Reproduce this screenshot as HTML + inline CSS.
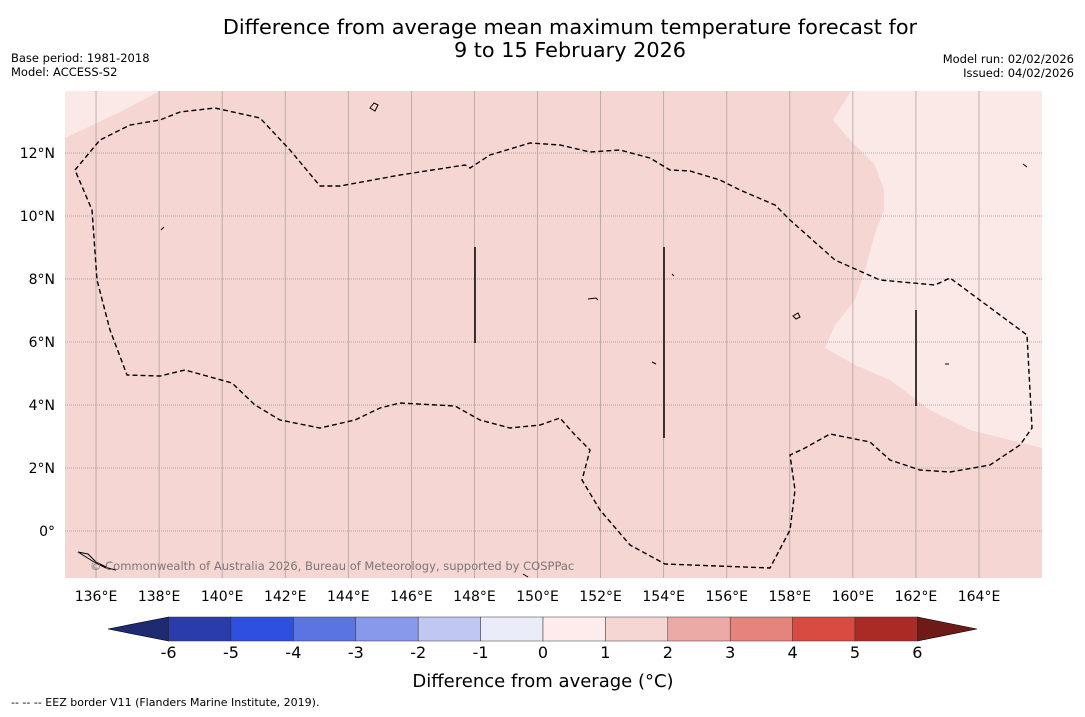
<!DOCTYPE html>
<html><head><meta charset="utf-8"><style>
body{margin:0;background:#fff;width:1085px;height:713px;overflow:hidden;font-family:"DejaVu Sans","Liberation Sans",sans-serif}
</style></head><body>
<svg width="1085" height="713" viewBox="0 0 1085 713" xmlns="http://www.w3.org/2000/svg" font-family="DejaVu Sans, Liberation Sans, sans-serif">
<text x="570" y="34" font-size="20.8" text-anchor="middle">Difference from average mean maximum temperature forecast for</text>
<text x="570" y="57" font-size="20.8" text-anchor="middle">9 to 15 February 2026</text>
<text x="11" y="62" font-size="11.5">Base period: 1981-2018</text>
<text x="11" y="76" font-size="11.5">Model: ACCESS-S2</text>
<text x="1074" y="63" font-size="11.5" text-anchor="end">Model run: 02/02/2026</text>
<text x="1074" y="77" font-size="11.5" text-anchor="end">Issued: 04/02/2026</text>
<g>
<rect x="65" y="91" width="977" height="487" fill="#f5d6d3"/>
<polygon points="65,91 160,91 120,112 65,138" fill="#fbe9e7"/>
<polygon points="851,91 833,120 850,140 875,165 884,190 884,210 876,230 865,270 855,300 835,325 825,348 855,365 890,380 930,410 970,430 1010,440 1042,448 1042,91" fill="#fbe9e7"/>
<g id="vgrid" stroke="#b0a0a0" stroke-width="0.8"></g>
<g id="grid" stroke="#999" stroke-width="0.8" stroke-dasharray="1,1"></g>
<path fill="none" stroke="#000" stroke-width="1.4" stroke-dasharray="5,3" d="M75,170 L100,140 130,125 160,120 180,112 215,108 260,118 290,150 320,186 340,186 400,175 465,165 470,168 490,155 530,143 560,145 590,152 620,150 650,158 670,170 690,171 720,180 740,190 775,205 790,220 835,260 880,280 935,285 950,278 1000,315 1027,335 1032,428 1020,445 990,465 950,472 920,470 890,460 870,442 830,434 805,448 790,455 795,490 790,530 770,568 665,564 630,545 600,510 582,480 590,450 575,435 560,418 540,425 510,428 480,420 455,406 400,403 380,408 355,420 320,428 280,420 255,405 232,383 185,370 160,376 127,375 110,330 97,280 92,210 Z"/>
<g stroke="#000" stroke-width="1.5">
<line x1="475" y1="247" x2="475" y2="343"/>
<line x1="664" y1="247" x2="664" y2="438"/>
<line x1="916" y1="310" x2="916" y2="406"/>
</g>
<g fill="none" stroke="#000" stroke-width="1">
<path d="M370,108 l4,-5 l4,2 l-3,6 z"/><path d="M161,230 l3,-3"/><path d="M588,299 l8,-1 l2,2"/><path d="M793,316 l5,-3 l2,4 l-4,2z"/><path d="M945,364 l4,0"/><path d="M78,552 l10,2 l8,8 l12,6 l8,2 l-10,-2 l-12,-6 z"/><path d="M523,574 l5,3"/><path d="M672,274 l2,2"/><path d="M652,362 l4,2"/><path d="M1023,164 l4,3"/>
</g>
<text x="90" y="570" font-size="11.5" fill="#777">© Commonwealth of Australia 2026, Bureau of Meteorology, supported by COSPPac</text>
</g>
<g id="axis" font-size="14"></g>
<g id="cbar"></g>
<text x="543" y="687" font-size="18" text-anchor="middle">Difference from average (°C)</text>
<text x="11" y="706" font-size="11">--  --  -- EEZ border V11 (Flanders Marine Institute, 2019).</text>
</svg>
<script>
const lonTicks=[136,138,140,142,144,146,148,150,152,154,156,158,160,162,164];
const latTicks=[0,2,4,6,8,10,12];
const cbarBounds=[-6,-5,-4,-3,-2,-1,0,1,2,3,4,5,6];
const cbarColors=["#293ca9","#2f4fe0","#5a74e2","#8898ea","#c0c8f2","#eaecf9","#fdeceb","#f5d6d3","#ebaaa5","#e5847d","#d94a41","#ab2a25"];
const NS="http://www.w3.org/2000/svg";
const xLon=l=>64.5+(l-135)*31.535;
const yLat=l=>531-l*31.5;
const xC=v=>543+v*62.4;
const vgrid=document.getElementById('vgrid'),grid=document.getElementById('grid'),axis=document.getElementById('axis'),cbar=document.getElementById('cbar');
function mk(tag,at,par){const e=document.createElementNS(NS,tag);for(const k in at)e.setAttribute(k,at[k]);par.appendChild(e);return e;}
lonTicks.forEach(l=>{
 const ln=mk('line',{x1:xLon(l),x2:xLon(l),y1:91,y2:578},vgrid);
 
 
 const t=mk('text',{x:xLon(l),y:601,'text-anchor':'middle'},axis);t.textContent=l+'°E';
 
 
});
latTicks.forEach(l=>{
 const ln=mk('line',{x1:65,x2:1042,y1:yLat(l),y2:yLat(l)},grid);
 
 
 const t=mk('text',{x:55,y:yLat(l)+5,'text-anchor':'end'},axis);t.textContent=l===0?'0°':l+'°N';
 
 
});
const y0=617,h=24;
const la=mk('polygon',{points:`${xC(-6)},${y0} 108,${y0+h/2} ${xC(-6)},${y0+h}`,fill:'#1e2a72',stroke:'#000','stroke-width':0.6},cbar);


const ra=mk('polygon',{points:`${xC(6)},${y0} 977,${y0+h/2} ${xC(6)},${y0+h}`,fill:'#6e1b18',stroke:'#000','stroke-width':0.6},cbar);


cbarColors.forEach((c,i)=>{
 const r=mk('rect',{x:xC(cbarBounds[i]),y:y0,width:xC(cbarBounds[i+1])-xC(cbarBounds[i]),height:h,fill:c,stroke:'#333','stroke-width':0.5},cbar);
 
 
});
cbarBounds.forEach(v=>{
 const t=mk('text',{x:xC(v),y:658,'text-anchor':'middle','font-size':16},cbar);t.textContent=v;
 
 
});
</script>
</body></html>
